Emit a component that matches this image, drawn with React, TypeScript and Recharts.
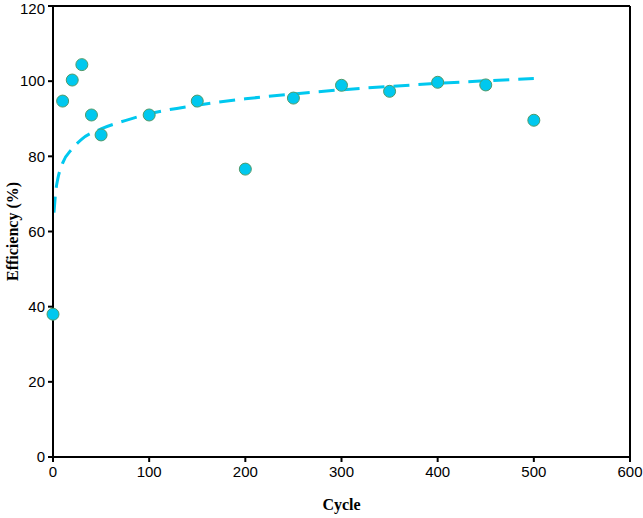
import React from 'react';
import {
  ComposedChart,
  Scatter,
  Line,
  XAxis,
  YAxis,
  ReferenceLine,
  Label,
} from 'recharts';

// measured efficiency per cycle
const cycles = [0, 10, 20, 30, 40, 50, 100, 150, 200, 250, 300, 350, 400, 450, 500];
const efficiency = [38.0, 94.7, 100.3, 104.4, 91.0, 85.7, 91.0, 94.7, 76.6, 95.5, 98.9, 97.3, 99.7, 99.0, 89.6];

// dashed trend curve
const trendCycles = [1, 3, 5, 10, 20, 30, 50, 75, 100, 150, 200, 250, 300, 350, 400, 450, 500];
const trendValues = [65, 71, 74, 78.2, 82, 84.6, 87.3, 89.5, 91.3, 93.6, 95.3, 96.6, 97.7, 98.6, 99.4, 100.1, 100.7];

const xTicks = [0, 100, 200, 300, 400, 500, 600];
const yTicks = [0, 20, 40, 60, 80, 100, 120];

const points = cycles.map((c, i) => ({ cycle: c, eff: efficiency[i] }));
const trend = trendCycles.map((c, i) => ({ cycle: c, fit: trendValues[i] }));

const CYAN = '#00c8ef';
const TICK = { fill: '#000', fontSize: 15, fontFamily: 'Liberation Sans, Arial, sans-serif' };
const TITLE = { fill: '#000', fontSize: 16, fontWeight: 700, fontFamily: 'Liberation Serif, serif' };

export default function App() {
  return (
    <div style={{ position: 'absolute', left: 0, top: 0, background: '#fff' }}>
      <ComposedChart
        width={643}
        height={518}
        margin={{ top: 6, right: 13, bottom: 31, left: 13 }}
      >
        <XAxis
          type="number"
          dataKey="cycle"
          domain={[0, 600]}
          ticks={xTicks}
          tick={TICK}
          tickSize={5}
          tickMargin={4}
          height={30}
          stroke="#000"
          strokeWidth={2}
          allowDuplicatedCategory={false}
        >
          <Label value="Cycle" position="bottom" offset={12} style={TITLE} />
        </XAxis>
        <YAxis
          type="number"
          domain={[0, 120]}
          ticks={yTicks}
          tick={TICK}
          tickSize={5}
          tickMargin={3}
          width={40}
          stroke="#000"
          strokeWidth={2}
        >
          <Label
            value="Efficiency (%)"
            angle={-90}
            position="insideLeft"
            offset={-1}
            style={{ ...TITLE, textAnchor: 'middle' }}
          />
        </YAxis>
        <ReferenceLine y={120} stroke="#000" strokeWidth={2} />
        <ReferenceLine x={600} stroke="#000" strokeWidth={2} />
        <Line
          data={trend}
          dataKey="fit"
          type="monotone"
          stroke={CYAN}
          strokeWidth={3}
          strokeDasharray="16 9"
          dot={false}
          isAnimationActive={false}
        />
        <Scatter
          data={points}
          dataKey="eff"
          fill={CYAN}
          stroke="#4f9a6a"
          strokeWidth={1}
          shape={(p: any) => (
            <circle cx={p.cx} cy={p.cy} r={6} fill={CYAN} stroke="#4f9a6a" strokeWidth={1} />
          )}
          isAnimationActive={false}
        />
      </ComposedChart>
    </div>
  );
}
